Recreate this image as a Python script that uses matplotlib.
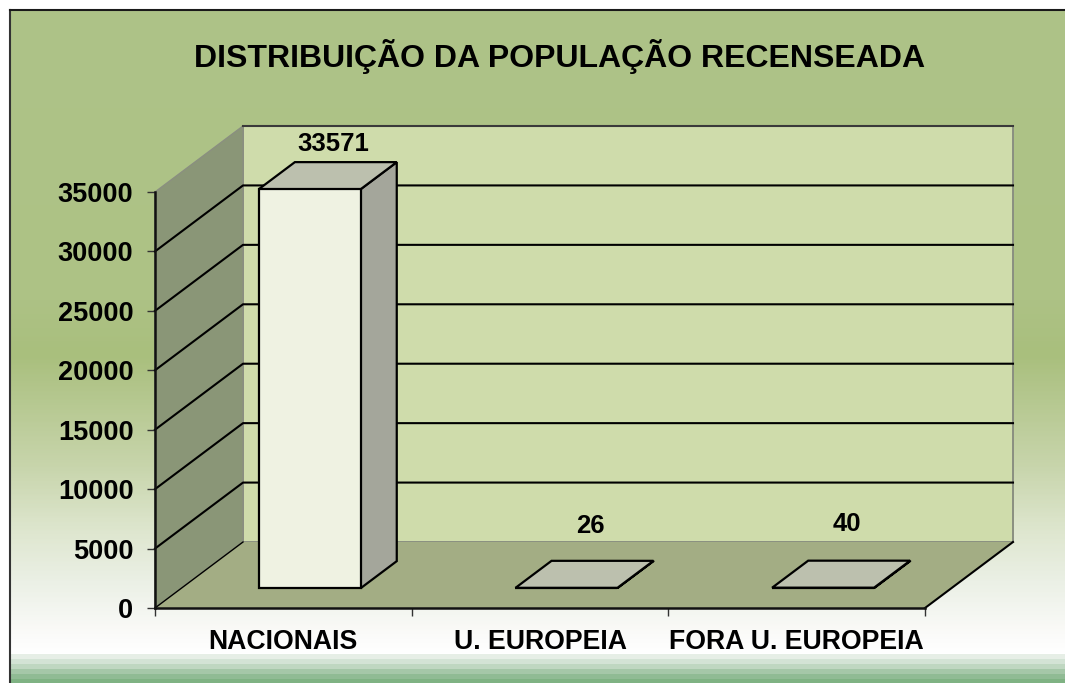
import numpy as np
import matplotlib
matplotlib.use("Agg")
import matplotlib.pyplot as plt
from matplotlib.colors import LinearSegmentedColormap
from matplotlib.patches import Polygon

# ---- data ----
title = "DISTRIBUIÇÃO DA POPULAÇÃO RECENSEADA"
categories = ["NACIONAIS", "U. EUROPEIA", "FORA U. EUROPEIA"]
values = [33571, 26, 40]
y_ticks = [0, 5000, 10000, 15000, 20000, 25000, 30000, 35000]

# ---- layout (pixels) ----
W, H = 1065, 683
X0, X1, Y0, Y35 = 155, 925, 608, 192
DX, DY = 88, 66          # depth offset of the back wall, pixels
BAR_W = 0.397            # bar width in category units
D0, D1 = 0.30, 0.71      # bar depth range
label_rise = [27, 44, 46]  # value label height above its anchor, pixels

plt.rcParams["font.family"] = ["Liberation Sans", "DejaVu Sans"]
fig = plt.figure(figsize=(W / 100, H / 100), dpi=100, facecolor="white")

# background
bg = fig.add_axes([0, 0, 1, 1], zorder=0)
bg.set_axis_off()
stops = [(0.0, "#aec388"), (0.45, "#adc285"), (0.535, "#a9bf7d"),
         (0.71, "#c8d5ac"), (0.814, "#dfe7d0"), (0.89, "#ebf0e6"),
         (0.97, "#fbfbf9"), (1.0, "#ffffff")]
cmap = LinearSegmentedColormap.from_list("bg", stops)
grad = np.linspace(0, 1, 400).reshape(-1, 1)
bg.imshow(grad, cmap=cmap, aspect="auto", extent=[10, W, 655, 10], zorder=1)
bands = ["#e6eee6", "#d3e3d5", "#bfd7c1", "#a5c7a8", "#90bb94", "#7fb283"]
edges = [654, 659, 664, 669, 674, 679, 683]
for c, a, b in zip(bands, edges[:-1], edges[1:]):
    bg.fill_between([10, W], a, b, color=c, lw=0, zorder=2)
bg.plot([10, 10], [10, H], color="#333333", lw=1.5, zorder=3)
bg.plot([10, W], [10, 10], color="#1a1a1a", lw=1.5, zorder=3)
bg.set_xlim(0, W)
bg.set_ylim(H, 0)

# chart axes: x in category units, y in data values
ax = fig.add_axes([X0 / W, 1 - Y0 / H, (X1 - X0) / W, (Y0 - Y35) / H], zorder=1)
ax.patch.set_alpha(0)
ax.set_xlim(0, len(categories))
ax.set_ylim(0, y_ticks[-1])
ux = (X1 - X0) / len(categories)
uy = (Y0 - Y35) / y_ticks[-1]
dxu, dyu = DX / ux, DY / uy


def pt(x, y, d=0.0):
    """Project category x, value y, depth d onto the front plane."""
    return (x + d * dxu, y + d * dyu)


def face(pts, fc, ec="black", lw=1.6, z=2):
    ax.add_patch(Polygon(pts, closed=True, fc=fc, ec=ec, lw=lw, clip_on=False,
                         zorder=z, joinstyle="miter"))


n = len(categories)
top = y_ticks[-1]
# walls and floor
face([pt(0, 0, 1), pt(n, 0, 1), pt(n, top, 1), pt(0, top, 1)], "#cfdcab", ec="#8a8f80", lw=1.4, z=1)
face([pt(0, 0), pt(0, 0, 1), pt(0, top, 1), pt(0, top)], "#8a9677", ec="#8a8f80", lw=1.0, z=1)
face([pt(0, 0), pt(n, 0), pt(n, 0, 1), pt(0, 0, 1)], "#a3ad84", ec="none", lw=0, z=1)

# gridlines
for t in y_ticks[1:-1]:
    xs, ys = zip(pt(0, t), pt(0, t, 1), pt(n, t, 1))
    ax.plot(xs, ys, color="black", lw=1.5, zorder=3, clip_on=False)
xs, ys = zip(pt(0, top, 1), pt(n, top, 1))
ax.plot(xs, ys, color="#3a3a3a", lw=1.5, zorder=3, clip_on=False)
xs, ys = zip(pt(0, 0), pt(0, 0, 1))
ax.plot(xs, ys, color="black", lw=1.0, zorder=3, clip_on=False)
xs, ys = zip(pt(n, 0), pt(n, 0, 1))
ax.plot(xs, ys, color="black", lw=1.5, zorder=3, clip_on=False)

# bars
for i, v in enumerate(values):
    l, r = i + 0.5 - BAR_W / 2, i + 0.5 + BAR_W / 2
    face([pt(r, 0, D0), pt(r, 0, D1), pt(r, v, D1), pt(r, v, D0)], "#a4a69b", z=4)
    face([pt(l, v, D0), pt(r, v, D0), pt(r, v, D1), pt(l, v, D1)], "#bcc0ae", z=4)
    face([pt(l, 0, D0), pt(r, 0, D0), pt(r, v, D0), pt(l, v, D0)], "#eff2e2", z=5)
    tx, ty = pt(i + 0.5, v, 0.57)
    ax.annotate(str(v), (tx, ty), xytext=(0, label_rise[i] * 0.72), textcoords="offset points",
                ha="center", va="center", fontsize=18.5,
                fontweight="bold", color="black", zorder=6, annotation_clip=False)

# axes decoration
for s in ("top", "right"):
    ax.spines[s].set_visible(False)
for s in ("left", "bottom"):
    ax.spines[s].set_linewidth(1.8)
    ax.spines[s].set_color("#111111")
    ax.spines[s].set_zorder(7)
ax.set_yticks(y_ticks)
ax.set_yticklabels([str(t) for t in y_ticks], fontsize=19.5, fontweight="bold")
ax.set_xticks(range(n + 1))
ax.set_xticklabels([""] * (n + 1))
ax.tick_params(axis="y", length=6, width=1.0, color="#333333", pad=9.5)
ax.tick_params(axis="x", length=6, width=1.0, color="#333333")
for i, c in enumerate(categories):
    ax.annotate(c, (i + 0.5, 0), xytext=(0, -24.5), textcoords="offset points",
                ha="center", va="center", fontsize=19.2, fontweight="bold",
                annotation_clip=False)

fig.text(560 / W, 1 - 56 / H, title, ha="center", va="center", fontsize=23,
         fontweight="bold", color="black", zorder=5)

fig.savefig("out.png", dpi=100)
